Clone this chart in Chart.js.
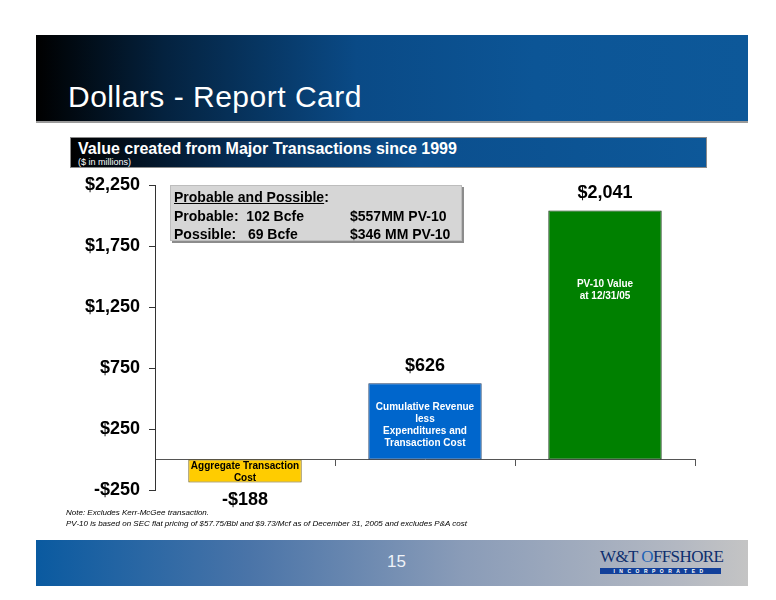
<!DOCTYPE html>
<html>
<head>
<meta charset="utf-8">
<script src="https://cdn.jsdelivr.net/npm/chart.js@4.4.0/dist/chart.umd.min.js"></script>
<style>
  body { margin: 0; width: 776px; height: 600px; position: relative; background: #fff; overflow: hidden;
         font-family: "Liberation Sans", Arial, sans-serif; }
  #chart { position: absolute; left: 0; top: 0; }
  .header { position: absolute; left: 36px; top: 35px; width: 712px; height: 86px;
            background: linear-gradient(to right, #000 0%, #04223f 18%, #0a4a86 45%, #0c5596 70%, #0d5899 100%);
            border-bottom: 2px solid #9a9a9a; }
  .header h1 { position: absolute; left: 32px; top: 47px; margin: 0; color: #fff; font-weight: normal;
               font-size: 30px; line-height: 30px; letter-spacing: 0.5px; white-space: nowrap; }
  .sub { position: absolute; left: 70px; top: 137px; width: 635px; height: 29px;
         background: linear-gradient(to right, #000 0%, #052a50 25%, #0b4f8e 55%, #0d5899 100%);
         border: 1px solid #8a8a8a; }
  .sub .t { position: absolute; left: 7px; top: 2px; color: #fff; font-weight: bold; font-size: 16px; white-space: nowrap; }
  .sub .s { position: absolute; left: 7px; top: 19px; color: #fff; font-size: 9px; white-space: nowrap; }
  .box { position: absolute; left: 170px; top: 185px; width: 290px; height: 54px; background: #d6d6d6;
         box-shadow: 2px 2px 0 #8c8c8c; border: 1px solid #bdbdbd; font-weight: bold; font-size: 14px;
         line-height: 16px; color: #000; }
  .box div { position: absolute; white-space: nowrap; }
  .note { position: absolute; left: 66px; font-style: italic; font-size: 8px; color: #000; white-space: nowrap; }
  .footer { position: absolute; left: 36px; top: 540px; width: 712px; height: 46px;
            background: linear-gradient(to right, #0a5aa0 0%, #4a74a8 30%, #8a9cb8 60%, #b3b8c2 90%, #c4c4c4 100%); }
  .footer .pg { position: absolute; left: 351px; top: 12px; color: #eef2f8; font-size: 17px; }
  .logo { position: absolute; left: 564px; top: 7px; width: 121px; }
  .logo .w { color: #0e2f6e; font-family: "Liberation Serif", "DejaVu Serif", serif; font-size: 17px;
             letter-spacing: -0.6px; white-space: nowrap; }
  .logo .w span { color: #1f63b5; }
  .logo .inc { margin-top: 1px; height: 6px; background: #12409a; color: #fff; font-size: 5px; line-height: 6px;
               letter-spacing: 4.5px; text-align: center; font-weight: bold; white-space: nowrap; }
</style>
</head>
<body>
<div class="header"><h1>Dollars - Report Card</h1></div>
<div class="sub"><div class="t">Value created from Major Transactions since 1999</div><div class="s">($ in millions)</div></div>
<canvas id="chart" width="776" height="600"></canvas>
<div class="box">
  <div style="left:3px;top:3px"><span style="text-decoration:underline">Probable and Possible</span>:</div>
  <div style="left:3px;top:22px">Probable:&nbsp; 102 Bcfe</div>
  <div style="left:179px;top:22px">$557MM PV-10</div>
  <div style="left:3px;top:40px">Possible:&nbsp;&nbsp; 69 Bcfe</div>
  <div style="left:179px;top:40px">$346 MM PV-10</div>
</div>
<div class="note" style="top:508px">Note: Excludes Kerr-McGee transaction.</div>
<div class="note" style="top:519px">PV-10 is based on SEC flat pricing of $57.75/Bbl and $9.73/Mcf as of December 31, 2005 and excludes P&amp;A cost</div>
<div class="footer">
  <div class="pg">15</div>
  <div class="logo"><div class="w">W&amp;T <span>O</span>FFSHORE</div><div class="inc">INCORPORATED</div></div>
</div>
<script>
// Chart data
const categories = ['Aggregate Transaction Cost', 'Cumulative Revenue less Expenditures and Transaction Cost', 'PV-10 Value at 12/31/05'];
const barLines = [
  ['Aggregate Transaction', 'Cost'],
  ['Cumulative Revenue', 'less', 'Expenditures and', 'Transaction Cost'],
  ['PV-10 Value', 'at 12/31/05']
];
const values = [-188, 626, 2041];
const barColors = ['#ffcc00', '#0066cc', '#008000'];
const barBorders = ['#6b5a10', '#1a3a66', '#0b300b'];
const innerTextColors = ['#000', '#fff', '#fff'];
const innerOffsets = [7, 24, 74];   // px below bar top
const yTicks = [-250, 250, 750, 1250, 1750, 2250];

function money(v) {
  return (v < 0 ? '-' : '') + '$' + Math.abs(v).toLocaleString('en-US');
}

// value above/below each bar + text inside the bar
const labelPlugin = {
  id: 'barText',
  afterDatasetsDraw(chart) {
    const ctx = chart.ctx;
    const meta = chart.getDatasetMeta(0);
    ctx.save();
    ctx.textAlign = 'center';
    ctx.textBaseline = 'middle';
    meta.data.forEach((bar, i) => {
      const v = values[i];
      ctx.font = 'bold 18px "Liberation Sans", Arial, sans-serif';
      ctx.fillStyle = '#000';
      if (v >= 0) ctx.fillText(money(v), bar.x, bar.y - 17);
      else ctx.fillText(money(v), bar.x, bar.y + 18);

      ctx.font = 'bold 10px "Liberation Sans", Arial, sans-serif';
      ctx.fillStyle = innerTextColors[i];
      const top = Math.min(bar.y, bar.base);
      barLines[i].forEach((ln, j) => {
        ctx.fillText(ln, bar.x, top + innerOffsets[i] + j * 12);
      });
    });
    ctx.restore();
  }
};

const ctx = document.getElementById('chart').getContext('2d');
const chart = new Chart(ctx, {
  type: 'bar',
  data: {
    labels: categories,
    datasets: [{
      data: values,
      backgroundColor: barColors,
      borderColor: barBorders,
      borderWidth: 1,
      borderSkipped: false,
      barPercentage: 0.63,
      categoryPercentage: 1
    }]
  },
  options: {
    responsive: false,
    animation: false,
    layout: { padding: { left: 0, top: 185, right: 81, bottom: 110 } },
    plugins: { legend: { display: false }, tooltip: { enabled: false } },
    scales: {
      x: {
        position: { y: 0 },
        grid: { drawOnChartArea: false, drawTicks: true, tickLength: 6, offset: true, color: '#555' },
        border: { color: '#555', width: 1 },
        ticks: { display: false }
      },
      y: {
        min: -250,
        max: 2250,
        afterBuildTicks(scale) { scale.ticks = yTicks.map(v => ({ value: v })); },
        afterFit(scale) { scale.width = 155; },
        grid: { drawOnChartArea: false, drawTicks: true, tickLength: 6, color: '#333' },
        border: { color: '#333', width: 1 },
        ticks: {
          padding: 9,
          color: '#000',
          font: { family: '"Liberation Sans", Arial, sans-serif', size: 18, weight: 'bold' },
          callback: v => money(v)
        }
      }
    }
  },
  plugins: [labelPlugin]
});
</script>
</body>
</html>
